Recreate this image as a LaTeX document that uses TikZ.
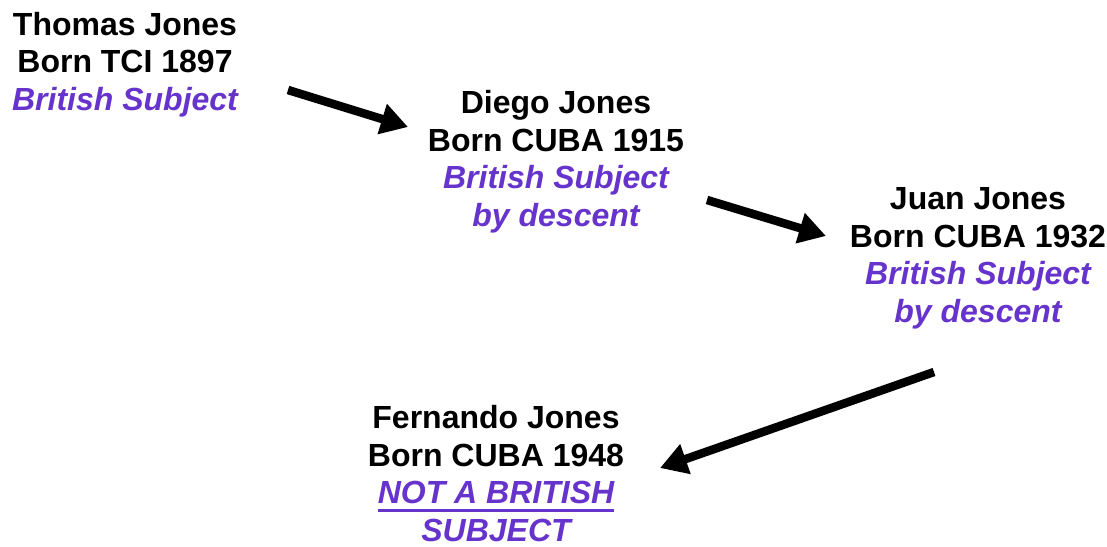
\documentclass[tikz,border=0pt]{standalone}
\usepackage{fontspec}
\setmainfont{Liberation Sans}
\usetikzlibrary{arrows.meta}
\definecolor{subj}{HTML}{6633CC}
\newcommand{\myul}[1]{{\setbox0\hbox{#1}\rlap{\rule[-8pt]{\wd0}{3pt}}\box0}}
\tikzset{
  person/.style={align=center, inner sep=0pt, anchor=base, font=\fontsize{32pt}{37.5pt}\selectfont\bfseries},
  bigarrow/.style={line width=8.5pt, -{Triangle[length=27pt,width=30pt]}}
}
\begin{document}
\begin{tikzpicture}[x=1pt,y=-1pt]
\useasboundingbox[fill=white] (0,0) rectangle (1107,546);
\node[person] (thomas) at (125,110) {Thomas Jones\\Born TCI 1897\\{\color{subj}\itshape British Subject}};
\node[person] (diego) at (556,226) {Diego Jones\\Born CUBA 1915\\{\color{subj}\itshape British Subject}\\{\color{subj}\itshape by descent}};
\node[person] (juan) at (978,322) {Juan Jones\\Born CUBA 1932\\{\color{subj}\itshape British Subject}\\{\color{subj}\itshape by descent}};
\node[person] (fernando) at (496,541) {Fernando Jones\\Born CUBA 1948\\{\color{subj}\itshape\myul{NOT A BRITISH}}\\{\color{subj}\itshape SUBJECT}};
\coordinate (a1s) at (288,90);
\coordinate (a1e) at (408,127);
\coordinate (a2s) at (707,200);
\coordinate (a2e) at (826,236);
\coordinate (a3s) at (934,372);
\coordinate (a3e) at (660,468);
\draw[bigarrow] (a1s) -- (a1e);
\draw[bigarrow] (a2s) -- (a2e);
\draw[bigarrow] (a3s) -- (a3e);
\end{tikzpicture}
\end{document}
